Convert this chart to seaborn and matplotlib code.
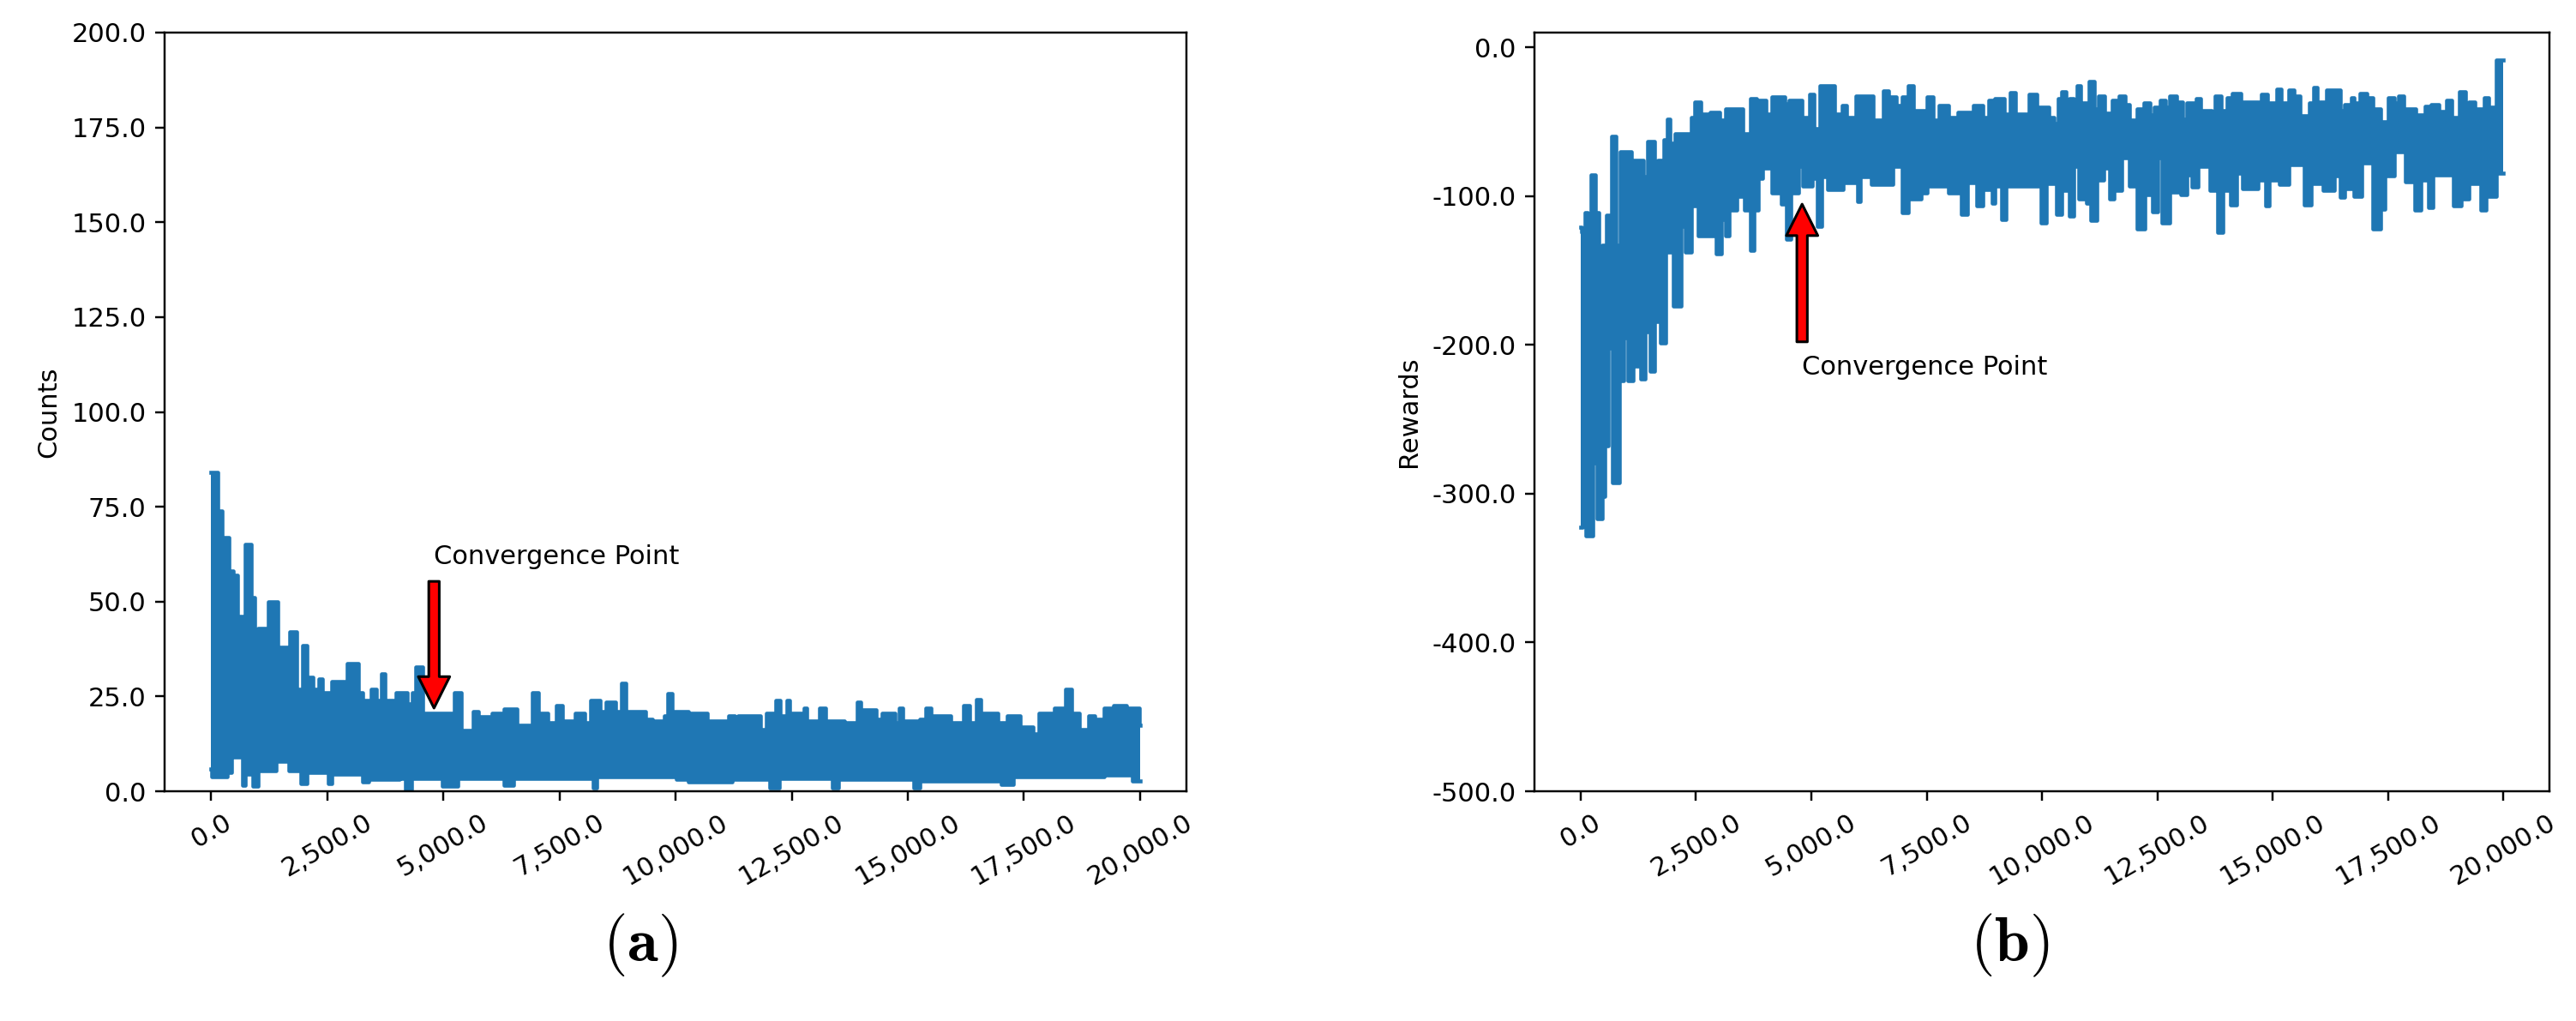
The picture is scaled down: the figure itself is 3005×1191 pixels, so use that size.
import numpy as np
import matplotlib
matplotlib.use("Agg")
import matplotlib.pyplot as plt
from matplotlib.ticker import FuncFormatter
import seaborn as sns

# episodes axis
episode_end = 20000
episode_ticks = [0, 2500, 5000, 7500, 10000, 12500, 15000, 17500, 20000]
count_ticks = [0, 25, 50, 75, 100, 125, 150, 175, 200]
reward_ticks = [-500, -400, -300, -200, -100, 0]

# envelope of the noisy curves: (episode where the level starts, value)
count_hi = [(0, 84), (146, 74), (245, 67), (378, 58), (477, 57), (577, 46), (676, 39), (742, 65),
            (862, 51), (941, 40), (1008, 43), (1240, 50), (1439, 38), (1671, 37), (1700, 42),
            (1836, 27), (1969, 38.5), (2069, 30), (2200, 27), (2320, 29.5), (2400, 26), (2599, 29),
            (2930, 33.6), (3163, 26), (3262, 24), (3450, 27), (3560, 24), (3660, 31), (3740, 24),
            (3991, 26), (4223, 23), (4324, 26), (4410, 32.7), (4555, 20.5), (4986, 20.5), (5240, 26),
            (5383, 16), (5649, 21), (5748, 19.7), (6047, 20.5), (6312, 21.6), (6577, 17.5), (6908, 26),
            (7041, 20.5), (7240, 18), (7440, 22.7), (7572, 18.6), (7837, 20.5), (8036, 18), (8170, 24),
            (8367, 21), (8500, 23.5), (8699, 21), (8830, 28.4), (8931, 21), (9362, 19), (9500, 18.6),
            (9759, 20), (9830, 25.7), (9925, 21), (10270, 20.5), (10674, 18.6), (11146, 20),
            (11280, 18), (11350, 20), (11820, 16.3), (11955, 20.5), (12157, 23.9), (12258, 20),
            (12390, 23.9), (12460, 20.5), (12763, 22), (12831, 18.6), (13100, 22), (13235, 18.6),
            (13640, 18), (13909, 23.5), (13977, 21.5), (14314, 19), (14450, 20.5), (14718, 18),
            (14820, 22), (14886, 18.6), (15257, 19), (15390, 22), (15493, 20), (15931, 18),
            (16200, 22.7), (16336, 18), (16470, 24.2), (16572, 20.5), (16942, 18), (17144, 20),
            (17414, 17), (17690, 15.2), (17818, 20.5), (18155, 22), (18391, 26.9), (18526, 20.5),
            (18695, 16.3), (18897, 20), (19032, 19), (19220, 22), (19369, 21), (19430, 22.7),
            (19706, 22), (19975, 17.4)]
count_lo = [(0, 5.8), (13, 3.9), (345, 5), (440, 12.6), (477, 9), (676, 1.7), (742, 4.6), (908, 1.3),
            (1008, 5.4), (1406, 8), (1671, 5.4), (1936, 2), (2069, 5), (2533, 2), (2599, 4.6),
            (3262, 2.4), (3395, 3.2), (4058, 3.5), (4190, 0.5), (4323, 3.5), (4986, 1.3), (5317, 3.5),
            (6312, 1.5), (6511, 3.5), (8235, 1), (8301, 3.9), (10025, 3.2), (10270, 2.4), (11213, 3.2),
            (12022, 0.9), (12224, 3.5), (13370, 0.9), (13505, 3.2), (15122, 0.9), (15257, 2.8),
            (17010, 1.8), (17279, 3.9), (19234, 4.3), (19840, 2.8)]

reward_hi = [(0, -121), (25, -124), (92, -111), (159, -125), (226, -85.6), (327, -111), (394, -155),
             (461, -133), (562, -113), (662, -60), (763, -133), (864, -70), (1099, -76), (1367, -87),
             (1454, -63.4), (1602, -80), (1669, -76), (1803, -62), (1870, -48), (1937, -64.5),
             (2038, -58), (2407, -47), (2474, -36.8), (2608, -44.6), (2810, -43.5), (3011, -49),
             (3145, -41.2), (3514, -58), (3682, -34.6), (3816, -35.7), (4017, -44.6), (4152, -33.5),
             (4420, -38), (4521, -35.7), (4789, -47), (4957, -31.3), (5057, -54.5), (5192, -25.7),
             (5494, -44.6), (5661, -39), (5762, -46.8), (5963, -32.4), (6332, -49), (6567, -29),
             (6668, -33.5), (6836, -39), (6970, -33.5), (7104, -25.7), (7205, -42.4), (7507, -33.5),
             (7641, -49), (7775, -39), (7976, -46.8), (8178, -43.5), (8513, -39), (8714, -46.8),
             (8849, -35.7), (8983, -34.6), (9184, -44.6), (9318, -30.2), (9419, -44.6), (9721, -31.3),
             (9889, -40), (10055, -40.3), (10156, -47), (10256, -51), (10357, -34.6), (10424, -29.8),
             (10525, -47), (10592, -34.6), (10692, -39.4), (10759, -26), (10827, -49), (10894, -37.4),
             (11028, -23), (11129, -41.3), (11229, -32.6), (11363, -44.2), (11531, -35.5),
             (11665, -32.6), (11800, -38.4), (11900, -49), (12068, -41.3), (12202, -37.4),
             (12336, -45.1), (12437, -40.3), (12571, -35.5), (12672, -40.3), (12773, -32.6),
             (12907, -36.5), (13041, -48), (13142, -37.4), (13343, -34.6), (13444, -42.2),
             (13678, -51), (13745, -32.6), (13880, -42.2), (14014, -33.6), (14115, -30.7),
             (14316, -36.5), (14752, -31.7), (14886, -37.4), (15088, -27.8), (15189, -37.4),
             (15356, -28.8), (15457, -32.6), (15591, -46), (15792, -37.4), (15893, -26.9),
             (15960, -36.5), (16161, -28.8), (16463, -42.2), (16564, -38.4), (16698, -33.6),
             (16765, -37.4), (16899, -30.7), (17034, -33.6), (17168, -41.3), (17335, -50),
             (17503, -33.6), (17637, -37.4), (17738, -32.6), (17839, -41.3), (18107, -45.1),
             (18308, -39.4), (18443, -38.4), (18610, -43.2), (18778, -35.5), (18878, -47),
             (19046, -29.8), (19181, -56.6), (19248, -36.5), (19382, -41.3), (19583, -33.6),
             (19684, -40.3), (19851, -8.6)]
reward_lo = [(0, -322.6), (30, -299), (120, -328), (260, -279), (360, -317), (461, -301.5), (528, -268),
             (595, -202), (696, -292.7), (830, -224), (931, -195), (1032, -224), (1132, -191),
             (1199, -214), (1300, -223), (1400, -191), (1501, -217.4), (1602, -184), (1736, -198.5),
             (1836, -137.6), (2004, -174), (2172, -120), (2273, -137.6), (2407, -106.6), (2541, -126.5),
             (2944, -138.7), (3045, -115.5), (3145, -126.5), (3212, -109), (3380, -100), (3548, -109),
             (3682, -136.5), (3749, -109), (3850, -88), (3950, -81), (4152, -97.7), (4353, -105.5),
             (4453, -128.7), (4554, -97.7), (4722, -80), (4823, -93.3), (5024, -88), (5125, -120),
             (5225, -86.7), (5360, -95.5), (5695, -91), (5997, -103.3), (6064, -86.7), (6299, -92),
             (6769, -80), (6970, -111), (7104, -102), (7373, -97.7), (7507, -93.3), (7976, -97.7),
             (8245, -112), (8379, -91), (8580, -106.6), (8714, -95.5), (8916, -104.4), (8983, -93.3),
             (9117, -115.5), (9218, -93.3), (9989, -117.7), (10090, -91.2), (10323, -112.3),
             (10424, -96), (10592, -113.3), (10692, -79.7), (10793, -101.8), (10961, -104.6),
             (11062, -116.2), (11196, -89.3), (11330, -81), (11464, -101.8), (11565, -96),
             (11733, -74), (11900, -93), (12068, -122), (12236, -99), (12404, -110.4), (12504, -74),
             (12605, -118), (12773, -97), (13007, -99), (13142, -85.4), (13242, -94), (13377, -79.7),
             (13645, -96), (13745, -94), (13813, -124.4), (13914, -96), (14081, -105.6), (14215, -84.5),
             (14349, -95), (14685, -89.3), (14853, -106.6), (14920, -89.3), (15155, -92.2),
             (15356, -78.7), (15692, -105.6), (15826, -91.2), (16094, -96), (16329, -86.4),
             (16463, -100.8), (16564, -95), (16765, -99.8), (16933, -77.8), (17168, -122),
             (17335, -108.5), (17436, -86.4), (17637, -70), (17872, -90.3), (18074, -109.4),
             (18208, -89.3), (18375, -107.5), (18476, -85.4), (18912, -106.6), (19080, -101.8),
             (19248, -91.2), (19516, -109.4), (19616, -100), (19851, -84.5)]

blue = "#1f77b4"
plt.rcParams["mathtext.fontset"] = "cm"


def steps(pairs, end):
    xs, vs = [], []
    for i, (x, v) in enumerate(pairs):
        nxt = pairs[i + 1][0] if i + 1 < len(pairs) else end
        xs += [x, nxt]
        vs += [v, v]
    return np.array(xs, dtype=float), np.array(vs, dtype=float)


def draw_band(ax, hi, lo):
    hx, hv = steps(hi, episode_end)
    lx, lv = steps(lo, episode_end)
    ax.fill(np.r_[hx, lx[::-1]], np.r_[hv, lv[::-1]], color=blue, lw=0)
    sns.lineplot(x=hx, y=hv, ax=ax, color=blue, lw=1.5, estimator=None, sort=False)
    sns.lineplot(x=lx, y=lv, ax=ax, color=blue, lw=1.5, estimator=None, sort=False)


fmt = FuncFormatter(lambda v, p: f"{v:,.1f}")

fig = plt.figure(figsize=(3005 / 220, 1191 / 220))
ax1 = fig.add_axes([0.0639, 0.225, 0.3967, 0.7431])
ax2 = fig.add_axes([0.5957, 0.225, 0.394, 0.7431])

draw_band(ax1, count_hi, count_lo)
ax1.set_ylim(0, 200)
ax1.set_yticks(count_ticks)
ax1.set_ylabel("Counts")
ax1.annotate("Convergence Point", xy=(4800, 20), xytext=(4800, 60),
             arrowprops=dict(facecolor="red", edgecolor="black", shrink=0.05))

draw_band(ax2, reward_hi, reward_lo)
ax2.set_ylim(-500, 10)
ax2.set_yticks(reward_ticks)
ax2.set_ylabel("Rewards")
ax2.annotate("Convergence Point", xy=(4800, -100), xytext=(4800, -220),
             arrowprops=dict(facecolor="red", edgecolor="black", shrink=0.05))

for ax in (ax1, ax2):
    ax.set_xlim(-1000, 21000)
    ax.set_xticks(episode_ticks)
    ax.xaxis.set_major_formatter(fmt)
    ax.yaxis.set_major_formatter(fmt)
    ax.set_xlabel("")
    plt.setp(ax.get_xticklabels(), rotation=30)

fig.text(0.2485, 0.074, r"$(\mathbf{a})$", fontsize=24, ha="center", va="center")
fig.text(0.78, 0.074, r"$(\mathbf{b})$", fontsize=24, ha="center", va="center")

fig.savefig("out.png", dpi=220)
